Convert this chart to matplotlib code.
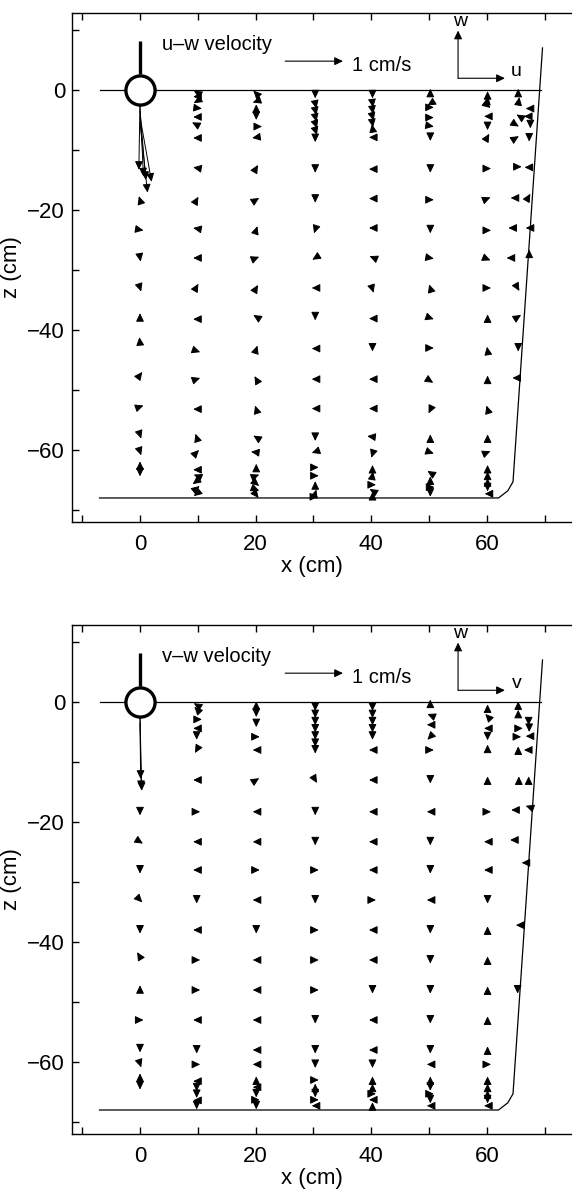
import matplotlib
matplotlib.use("Agg")
import matplotlib.pyplot as plt
from matplotlib.patches import FancyArrowPatch
from matplotlib.ticker import MultipleLocator, FuncFormatter

plt.rcParams['font.family'] = ['Liberation Sans', 'DejaVu Sans']

# 1 cm/s is drawn as 10 cm on the plot
vel_scale = 10.0

# tank outline (cm)
surface_x = [-7.0, 69.3]
surface_z = [0.0, 0.0]
wall_x = [69.6, 64.5, 63.6, 62.0, -7.0]
wall_z = [7.0, -65.3, -66.8, -68.0, -68.0]

# measurement columns (x in cm)
col_x = [0.0, 9.8, 20.1, 30.3, 40.2, 50.2, 60.1]

# ---------------- u-w panel: (z, u, w) per column, velocities in cm/s
uw_x0 = [(-1.5, -0.02, -1.18), (-2.5, 0.06, -1.19), (-3.5, 0.10, -1.15),
         (-4.5, 0.20, -1.08), (-5.5, 0.13, -1.16),
         (-18.3, -0.02, 0.06), (-23.3, 0.06, -0.01), (-28.0, 0.01, -0.06),
         (-33.0, 0.02, -0.06), (-37.8, 0.0, 0.06), (-42.2, -0.01, 0.10),
         (-47.5, 0.04, 0.05), (-52.8, 0.06, 0.02), (-57.5, 0.02, -0.06),
         (-60.3, 0.02, -0.06), (-62.5, 0.0, 0.06), (-63.8, 0.0, -0.06)]
uw_x10 = [(-0.4, -0.05, 0.03), (-1.1, -0.06, 0.0), (-1.9, -0.05, -0.03),
          (-3.0, 0.09, -0.01), (-4.5, -0.06, 0.0), (-5.8, -0.08, 0.04),
          (-8.0, -0.06, 0.0), (-13.0, -0.06, 0.01), (-18.3, 0.03, 0.05),
          (-23.1, -0.06, 0.01), (-28.0, -0.06, 0.0), (-32.8, 0.03, 0.05),
          (-38.2, -0.06, 0.0), (-43.5, 0.06, -0.02), (-48.2, 0.06, 0.02),
          (-53.2, -0.06, 0.0), (-57.9, -0.02, 0.06), (-60.4, 0.04, 0.04),
          (-63.3, -0.06, 0.0), (-64.3, -0.05, 0.02), (-65.2, -0.07, -0.05),
          (-66.4, 0.05, 0.04), (-67.3, -0.05, -0.04)]
uw_x20 = [(-0.6, -0.05, 0.05), (-1.9, -0.06, -0.02), (-3.0, 0.0, 0.06),
          (-4.4, 0.0, -0.06), (-6.1, 0.10, 0.0), (-7.9, -0.07, -0.01),
          (-13.0, 0.03, 0.05), (-18.3, 0.05, 0.03), (-23.3, 0.02, 0.06),
          (-28.0, 0.05, 0.02), (-33.0, 0.03, 0.05), (-37.8, -0.05, 0.03),
          (-43.2, 0.02, 0.06), (-48.2, -0.03, 0.05), (-53.2, -0.02, 0.06),
          (-57.9, -0.05, 0.03), (-60.4, -0.09, 0.01), (-62.9, 0.0, 0.06),
          (-64.3, 0.05, 0.02), (-65.6, 0.05, -0.04), (-66.6, 0.05, -0.02),
          (-67.5, 0.04, -0.05)]
uw_x30 = [(-0.8, 0.0, -0.06), (-2.2, 0.02, -0.09), (-3.3, 0.02, -0.09),
          (-4.4, 0.02, -0.09), (-5.5, 0.03, -0.09), (-6.6, 0.03, -0.09),
          (-8.1, 0.0, -0.06), (-13.2, 0.0, -0.06), (-18.2, 0.0, -0.06),
          (-23.3, -0.02, -0.06), (-28.0, -0.05, -0.03), (-33.0, -0.06, 0.0),
          (-37.8, 0.0, -0.06), (-43.1, -0.06, 0.0), (-48.2, -0.06, 0.0),
          (-53.1, -0.06, 0.0), (-57.9, 0.0, -0.06), (-60.3, -0.06, -0.02),
          (-62.9, 0.06, 0.0), (-64.3, 0.06, 0.0), (-65.8, 0.0, 0.06),
          (-67.2, 0.02, 0.06), (-67.8, 0.05, 0.0)]
uw_x40 = [(-0.8, 0.0, -0.06), (-2.2, 0.01, -0.07), (-3.3, 0.01, -0.07),
          (-4.4, 0.02, -0.07), (-5.6, 0.01, -0.06), (-6.3, -0.01, 0.06),
          (-7.9, -0.06, 0.0), (-13.2, -0.06, 0.0), (-18.1, -0.06, 0.0),
          (-23.0, -0.06, 0.0), (-27.9, -0.05, 0.02), (-33.2, 0.02, -0.06),
          (-38.1, -0.06, 0.0), (-43.0, 0.0, -0.06), (-48.2, -0.06, 0.0),
          (-53.1, -0.06, 0.0), (-57.8, -0.09, 0.01), (-60.7, -0.02, -0.06),
          (-63.1, 0.0, 0.06), (-64.2, 0.01, 0.06), (-65.8, 0.06, 0.0),
          (-66.8, -0.05, 0.03), (-67.6, 0.0, 0.06)]
uw_x50 = [(-0.4, 0.0, 0.06), (-2.3, -0.05, -0.03), (-2.9, 0.06, 0.0),
          (-4.6, 0.06, 0.0), (-6.0, 0.06, -0.01), (-7.9, 0.0, -0.06),
          (-13.2, 0.0, -0.06), (-18.3, 0.06, 0.0), (-23.3, 0.0, -0.06),
          (-28.0, 0.06, -0.01), (-33.0, -0.02, 0.06), (-38.0, 0.06, -0.02),
          (-43.0, 0.06, 0.0), (-48.5, 0.05, -0.03), (-53.3, -0.03, -0.06),
          (-58.0, 0.0, 0.06), (-60.4, 0.06, -0.02), (-63.8, -0.05, 0.03),
          (-65.0, 0.0, 0.06), (-66.2, 0.07, 0.0), (-67.2, 0.0, -0.06)]
uw_x60 = [(-0.8, 0.0, 0.06), (-1.7, 0.01, 0.06), (-2.6, 0.05, -0.04),
          (-4.4, -0.06, 0.0), (-6.1, 0.0, -0.06), (-7.8, 0.03, 0.05),
          (-13.1, 0.06, 0.0), (-18.1, 0.05, 0.02), (-23.4, 0.06, 0.0),
          (-28.2, 0.05, -0.02), (-33.0, 0.06, 0.0), (-38.0, 0.0, 0.06),
          (-43.4, -0.01, 0.06), (-48.2, 0.0, 0.06), (-53.2, -0.02, 0.06),
          (-58.0, 0.0, 0.06), (-60.4, 0.05, 0.02), (-63.1, 0.0, 0.06),
          (-64.2, 0.0, 0.06), (-65.3, 0.0, 0.06), (-66.3, 0.0, -0.06),
          (-67.3, -0.05, 0.0)]
uw_cols = [uw_x0, uw_x10, uw_x20, uw_x30, uw_x40, uw_x50, uw_x60]
# points near the sloping wall: (x, z, u, w)
uw_edge = [(65.4, -0.4, 0.0, 0.06), (65.5, -1.8, 0.01, 0.06),
           (67.3, -3.1, -0.06, 0.0), (65.6, -4.4, -0.05, 0.03),
           (67.0, -4.4, -0.06, 0.0), (65.0, -5.8, 0.05, -0.03),
           (67.5, -5.8, 0.0, -0.06), (65.0, -8.0, 0.05, 0.03),
           (67.3, -8.0, 0.0, -0.06), (65.4, -12.8, 0.06, 0.0),
           (67.1, -12.9, -0.06, 0.0), (64.7, -18.0, -0.06, 0.0),
           (67.2, -17.8, 0.03, 0.05), (64.6, -23.0, -0.09, 0.0),
           (67.3, -23.0, -0.06, 0.0), (64.3, -28.0, -0.09, 0.0),
           (67.3, -27.3, 0.0, 0.07), (65.3, -33.0, 0.03, -0.05),
           (65.4, -37.8, 0.05, 0.03), (65.4, -43.0, 0.0, -0.06),
           (65.0, -48.0, -0.06, 0.0)]

# ---------------- v-w panel: (z, v, w) per column
vw_x0 = [(-1.5, 0.01, -1.13), (-2.5, 0.03, -1.23), (-3.5, 0.02, -1.10),
         (-18.3, 0.0, -0.06), (-23.3, 0.05, -0.03), (-28.0, 0.0, -0.06),
         (-33.0, 0.04, -0.04), (-38.0, 0.0, -0.06), (-42.5, -0.05, 0.08),
         (-47.8, 0.0, 0.06), (-53.0, 0.06, 0.0), (-57.8, 0.0, -0.06),
         (-60.3, 0.02, -0.06), (-62.5, 0.0, 0.06), (-64.0, 0.0, -0.06)]
vw_x10 = [(-0.5, -0.05, 0.03), (-1.2, -0.04, 0.04), (-2.9, 0.09, 0.0),
          (-4.4, -0.06, 0.0), (-5.7, 0.0, -0.06), (-8.0, -0.03, -0.05),
          (-13.0, -0.06, 0.0), (-18.3, 0.06, 0.0), (-23.3, -0.06, 0.0),
          (-28.0, -0.06, 0.0), (-33.0, 0.0, -0.06), (-38.0, -0.06, 0.0),
          (-43.0, 0.06, 0.0), (-48.0, 0.06, 0.0), (-53.0, -0.06, 0.0),
          (-58.0, 0.0, -0.06), (-60.4, 0.06, 0.0), (-63.2, -0.06, 0.0),
          (-64.3, 0.0, -0.06), (-65.4, 0.0, -0.06), (-66.4, -0.06, 0.0),
          (-67.3, 0.0, -0.06)]
vw_x20 = [(-0.5, 0.0, 0.06), (-1.9, 0.0, -0.06), (-3.6, 0.0, -0.06),
          (-5.8, 0.06, 0.0), (-8.0, -0.06, 0.0), (-13.0, 0.05, 0.03),
          (-18.3, -0.06, 0.0), (-23.3, -0.06, 0.0), (-28.0, 0.06, 0.0),
          (-33.0, -0.06, 0.0), (-38.0, 0.0, -0.06), (-43.0, -0.06, 0.0),
          (-48.0, -0.06, 0.0), (-53.0, -0.06, 0.0), (-58.0, -0.06, 0.0),
          (-60.4, -0.06, 0.0), (-63.0, 0.0, 0.06), (-64.2, -0.06, 0.0),
          (-65.3, 0.0, -0.06), (-66.3, 0.06, 0.0), (-67.3, 0.0, -0.06)]
vw_x30 = [(-0.8, 0.0, -0.07), (-2.0, 0.0, -0.07), (-3.2, 0.0, -0.07),
          (-4.4, 0.0, -0.07), (-5.6, 0.0, -0.07), (-6.8, 0.0, -0.07),
          (-8.0, 0.0, -0.06), (-13.0, 0.03, -0.05), (-18.3, 0.0, -0.06),
          (-23.3, 0.0, -0.06), (-28.0, 0.06, 0.0), (-33.0, 0.0, -0.06),
          (-38.0, 0.06, 0.0), (-43.0, 0.06, 0.0), (-48.0, 0.06, 0.0),
          (-53.0, 0.0, -0.06), (-58.0, 0.0, -0.06), (-60.4, 0.0, -0.06),
          (-63.0, 0.06, 0.0), (-64.2, 0.0, 0.06), (-65.3, 0.0, -0.06),
          (-66.3, 0.06, 0.0), (-67.3, -0.06, 0.0)]
vw_x40 = [(-0.8, 0.0, -0.07), (-2.0, 0.0, -0.07), (-3.2, 0.0, -0.07),
          (-4.4, 0.0, -0.07), (-5.6, 0.0, -0.07), (-8.0, -0.06, 0.0),
          (-13.0, -0.06, 0.0), (-18.3, -0.06, 0.0), (-23.3, -0.06, 0.0),
          (-28.0, -0.06, 0.0), (-33.0, 0.06, 0.0), (-38.0, -0.06, 0.0),
          (-43.0, -0.06, 0.0), (-48.0, 0.0, -0.06), (-53.0, -0.06, 0.0),
          (-58.0, -0.06, 0.0), (-60.4, 0.0, -0.06), (-63.0, 0.0, 0.06),
          (-64.2, 0.0, 0.06), (-65.3, 0.06, 0.0), (-66.3, -0.06, 0.0),
          (-67.3, 0.0, 0.06)]
vw_x50 = [(-0.2, 0.0, 0.06), (-2.2, -0.05, 0.02), (-3.8, -0.06, 0.0),
          (-5.8, -0.05, -0.05), (-8.0, 0.06, 0.0), (-13.0, 0.0, -0.06),
          (-18.3, -0.06, 0.0), (-23.3, 0.0, -0.06), (-28.0, 0.0, -0.06),
          (-33.0, -0.06, 0.0), (-38.0, 0.0, -0.06), (-43.0, 0.0, -0.06),
          (-48.0, 0.0, -0.06), (-53.0, 0.0, -0.06), (-58.0, 0.0, -0.06),
          (-60.4, -0.06, 0.0), (-63.0, 0.0, 0.06), (-64.2, 0.0, -0.06),
          (-65.3, 0.06, 0.0), (-66.3, 0.0, -0.06), (-67.3, -0.06, 0.0)]
vw_x60 = [(-1.0, 0.0, 0.06), (-2.4, -0.04, 0.04), (-4.4, -0.06, 0.0),
          (-5.8, 0.0, -0.06), (-7.7, 0.0, 0.06), (-13.0, 0.0, 0.06),
          (-18.3, 0.06, 0.0), (-23.3, -0.06, 0.0), (-28.0, -0.06, 0.0),
          (-33.0, 0.0, -0.06), (-38.0, 0.0, 0.06), (-43.0, 0.0, 0.06),
          (-48.0, 0.0, 0.06), (-53.0, 0.0, 0.06), (-58.0, 0.0, 0.06),
          (-60.4, 0.06, 0.0), (-63.0, 0.0, 0.06), (-64.2, 0.0, 0.06),
          (-65.3, 0.0, 0.06), (-66.3, 0.0, -0.06), (-67.3, -0.06, 0.0)]
vw_cols = [vw_x0, vw_x10, vw_x20, vw_x30, vw_x40, vw_x50, vw_x60]
vw_edge = [(65.4, -0.5, 0.0, 0.06), (65.4, -1.9, 0.0, 0.06),
           (67.2, -3.3, 0.0, -0.06), (65.6, -4.4, 0.06, 0.0),
           (67.3, -4.4, 0.0, -0.06), (65.3, -5.8, 0.06, 0.0),
           (67.3, -5.7, -0.06, 0.0), (65.4, -8.0, 0.0, 0.06),
           (67.0, -8.0, -0.06, 0.0), (65.5, -13.0, 0.0, 0.06),
           (67.2, -13.0, 0.0, 0.06), (64.8, -18.0, -0.06, 0.0),
           (67.3, -17.5, -0.06, 0.02), (64.6, -23.0, -0.06, 0.0),
           (66.6, -26.8, -0.06, 0.0), (65.8, -37.2, -0.08, 0.0),
           (65.3, -48.0, 0.0, -0.06)]

panels = [
    ("u\u2013w velocity", "u", uw_cols, uw_edge, 0.5610),
    ("v\u2013w velocity", "v", vw_cols, vw_edge, 0.04626),
]


def arrow(ax, x0, z0, x1, z1, lw=0.7):
    a = FancyArrowPatch((x0, z0), (x1, z1),
                        arrowstyle='-|>,head_length=5.0,head_width=2.4',
                        mutation_scale=1, shrinkA=0, shrinkB=0,
                        color='black', lw=lw, zorder=3)
    ax.add_patch(a)


fig = plt.figure(figsize=(5.72, 11.89), dpi=100)

for title, hlabel, cols, edge, bottom in panels:
    ax = fig.add_axes([72/572, bottom, 500/572, 509/1189])
    ax.set_xlim(-11.76, 74.7)
    ax.set_ylim(-72.0, 12.83)

    # tank
    ax.plot(surface_x, surface_z, color='black', lw=0.9)
    ax.plot(wall_x, wall_z, color='black', lw=0.9)

    # velocity vectors
    for cx, col in zip(col_x, cols):
        for z, u, w in col:
            arrow(ax, cx, z, cx + u * vel_scale, z + w * vel_scale)
    for x, z, u, w in edge:
        arrow(ax, x, z, x + u * vel_scale, z + w * vel_scale)

    # probe
    ax.plot([0, 0], [2.6, 8.1], color='black', lw=2.4, solid_capstyle='butt', zorder=4)
    ax.plot(0, 0, 'o', ms=21, mfc='white', mec='black', mew=2.4, zorder=5)

    # labels and scale arrow
    ax.text(3.8, 6.7, title, fontsize=14.5, va='baseline', ha='left')
    arrow(ax, 25.1, 4.8, 25.1 + 1.0 * vel_scale, 4.8, lw=0.8)
    ax.text(36.6, 3.2, "1 cm/s", fontsize=14.5, va='baseline', ha='left')

    # axis direction indicator
    arrow(ax, 55.0, 1.95, 55.0, 9.9, lw=0.8)
    arrow(ax, 55.0, 1.95, 63.1, 1.95, lw=0.8)
    ax.text(55.3, 11.4, "w", fontsize=14, ha='center', va='center')
    ax.text(65.1, 3.0, hlabel, fontsize=14, ha='center', va='center')

    # axes styling
    ax.spines['right'].set_visible(False)
    for s in ['left', 'top', 'bottom']:
        ax.spines[s].set_linewidth(1.0)
    ax.xaxis.set_major_locator(MultipleLocator(10))
    ax.yaxis.set_major_locator(MultipleLocator(10))
    every20 = FuncFormatter(lambda v, p: f"{v:.0f}".replace("-", "\u2212") if round(v) % 20 == 0 else "")
    ax.xaxis.set_major_formatter(every20)
    ax.yaxis.set_major_formatter(every20)
    ax.tick_params(axis='x', direction='in', length=5, width=1.0, top=True,
                   labelsize=16, pad=8.5)
    ax.tick_params(axis='y', direction='in', length=5, width=1.0, right=False,
                   labelsize=16, pad=5)
    ax.set_xlabel("x (cm)", fontsize=16)
    ax.set_ylabel("z (cm)", fontsize=16)
    ax.xaxis.set_label_coords(0.48, -0.067)
    ax.yaxis.set_label_coords(-0.10, 0.5)

fig.savefig("out.png", dpi=100)
